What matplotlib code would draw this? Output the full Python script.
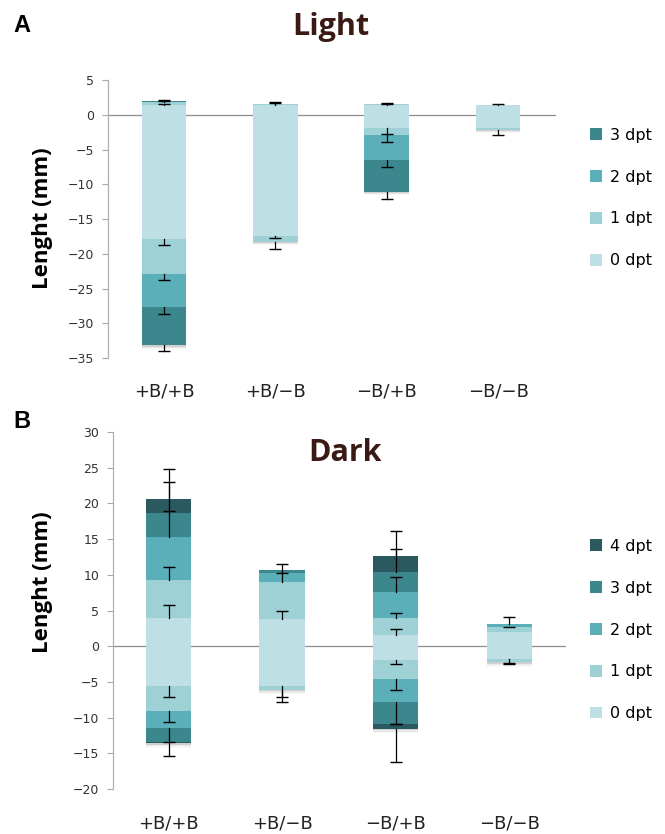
import numpy as np
import matplotlib
matplotlib.use("Agg")
import matplotlib.pyplot as plt

groups = ["+B/+B", "+B/\u2212B", "\u2212B/+B", "\u2212B/\u2212B"]
colors = ["#bedfe3", "#9dd1d5", "#5bafb8", "#3c878e", "#2a5a5f"]

# Light: segment lengths (mm) per stage, positive and negative parts, per group
light_labels = ["0 dpt", "1 dpt", "2 dpt", "3 dpt"]
light_pos = [[1.4, 0.4, 0.1, 0.1],
             [1.45, 0.15, 0.0, 0.0],
             [1.4, 0.2, 0.0, 0.0],
             [1.4, 0.0, 0.0, 0.0]]
light_pos_err = [[0.2, 0.2, 0.0, 0.1],
                 [0.2, 0.2, 0.0, 0.0],
                 [0.1, 0.1, 0.0, 0.0],
                 [0.1, 0.0, 0.0, 0.0]]
light_neg = [[-17.85, -5.05, -4.7, -5.6],
             [-17.5, -0.8, 0.0, 0.0],
             [-1.96, -0.91, -3.59, -4.59],
             [-1.96, -0.19, 0.0, 0.0]]
light_neg_err = [[0.95, 0.9, 1.0, 0.8],
                 [0.2, 0.0, 0.0, 1.0],
                 [0.85, 1.0, 1.0, 1.05],
                 [0.0, 0.75, 0.0, 0.0]]

# Dark
dark_labels = ["0 dpt", "1 dpt", "2 dpt", "3 dpt", "4 dpt"]
dark_pos = [[4.0, 5.22, 6.01, 3.45, 2.0],
            [3.77, 5.17, 1.35, 0.33, 0.0],
            [1.58, 2.42, 3.59, 2.8, 2.19],
            [2.0, 0.7, 0.37, 0.0, 0.0]]
dark_pos_err = [[1.73, 1.86, 3.73, 4.37, 4.1],
                [1.12, 1.3, 1.21, 0.0, 0.0],
                [0.89, 0.66, 2.14, 3.21, 3.58],
                [0.0, 0.05, 1.03, 0.0, 0.0]]
dark_neg = [[-5.54, -3.5, -2.42, -1.95, -0.19],
            [-5.64, -0.46, 0.0, 0.0, 0.0],
            [-1.91, -2.7, -3.26, -2.98, -0.7],
            [-1.82, -0.46, 0.0, 0.0, 0.0]]
dark_neg_err = [[1.54, 1.53, 2.0, 0.0, 1.77],
                [1.53, 1.68, 0.0, 0.0, 0.0],
                [0.65, 1.54, 3.08, 0.1, 4.65],
                [0.5, 0.2, 0.0, 0.0, 0.0]]

W, H = 665, 834


def one_sided(ax, x, base, err, sign):
    # error line from the segment edge outward, cap only at the far end
    for xi, b, e in zip(x, base, err):
        if e <= 0:
            continue
        tip = b + sign * e
        ax.plot([xi, xi], [b, tip], color="black", lw=0.9, zorder=3)
        ax.plot([xi], [tip], marker="_", ms=8, mew=1.0, color="black",
                zorder=3)


def draw_panel(ax, labels, pos, pos_err, neg, neg_err, ylim, yticks, xlim,
               leg_y, ylab_y):
    x = np.arange(len(groups))
    w = 0.40
    pos = np.array(pos)
    neg = np.array(neg)
    ax.axhline(0, color="#8c8c8c", lw=0.9, zorder=1)
    # soft shadow under each bar
    span = ylim[1] - ylim[0]
    for i in range(len(groups)):
        bot = neg[i].sum()
        for j, a in enumerate([0.10, 0.06, 0.03]):
            d = span * 0.004 * (j + 1)
            ax.bar(x[i], d, bottom=bot - d, width=w, color="#000000",
                   alpha=a, lw=0, zorder=1.5)
    pb = np.zeros(len(groups))
    nb = np.zeros(len(groups))
    for k, lab in enumerate(labels):
        ax.bar(x, pos[:, k], bottom=pb, width=w, color=colors[k], lw=0,
               zorder=2, label=lab)
        ax.bar(x, neg[:, k], bottom=nb, width=w, color=colors[k], lw=0,
               zorder=2)
        pb = pb + pos[:, k]
        nb = nb + neg[:, k]
        one_sided(ax, x, pb, [r[k] for r in pos_err], 1)
        one_sided(ax, x, nb, [r[k] for r in neg_err], -1)
    ax.set_ylim(*ylim)
    ax.set_xlim(*xlim)
    ax.set_yticks(yticks)
    ax.set_yticklabels([str(t).replace("-", "\u2212") for t in yticks])
    ax.set_xticks(x)
    ax.set_xticklabels(groups, fontsize=13, color="#222222")
    ax.tick_params(axis="x", length=0, pad=18)
    ax.tick_params(axis="y", length=4, width=0.8, color="#aaaaaa",
                   labelsize=9, labelcolor="#333333", pad=6)
    for s in ["top", "right", "bottom"]:
        ax.spines[s].set_visible(False)
    ax.spines["left"].set_color("#b0b0b0")
    ax.spines["left"].set_linewidth(0.9)
    ax.set_ylabel("Lenght (mm)", fontsize=16, fontweight="bold",
                  family="Open Sans")
    ax.yaxis.set_label_coords(53 / W, 1 - ylab_y / H,
                              transform=fig.transFigure)
    h, l = ax.get_legend_handles_labels()
    ax.legend(h[::-1], l[::-1], loc="center left",
              bbox_to_anchor=(576 / W, 1 - leg_y / H),
              bbox_transform=fig.transFigure, frameon=False, fontsize=11.5,
              handlelength=0.75, handleheight=0.75, labelspacing=1.68,
              handletextpad=0.45)


fig = plt.figure(figsize=(6.65, 8.34), dpi=100)

axA = fig.add_axes([108 / W, 1 - 358 / H, (556 - 108) / W, (358 - 80) / H])
draw_panel(axA, light_labels, light_pos, light_pos_err, light_neg,
           light_neg_err, (-35, 5), list(range(5, -40, -5)), (-0.503, 3.52),
           198, 218)

axB = fig.add_axes([113 / W, 1 - 789 / H, (566 - 113) / W, (789 - 432) / H])
draw_panel(axB, dark_labels, dark_pos, dark_pos_err, dark_neg,
           dark_neg_err, (-20, 30), list(range(30, -25, -5)), (-0.49, 3.50),
           630, 582)

fig.text(331 / W, 1 - 27 / H, "Light", ha="center", va="center", fontsize=22,
         fontweight="bold", color="#3b1a16", family="Open Sans")
fig.text(345 / W, 1 - 453 / H, "Dark", ha="center", va="center", fontsize=22,
         fontweight="bold", color="#3b1a16", family="Open Sans")
fig.text(13 / W, 1 - 26 / H, "A", ha="left", va="center", fontsize=17,
         fontweight="bold", family="Liberation Sans")
fig.text(13 / W, 1 - 422 / H, "B", ha="left", va="center", fontsize=17,
         fontweight="bold", family="Liberation Sans")

fig.savefig("out.png", dpi=100)
